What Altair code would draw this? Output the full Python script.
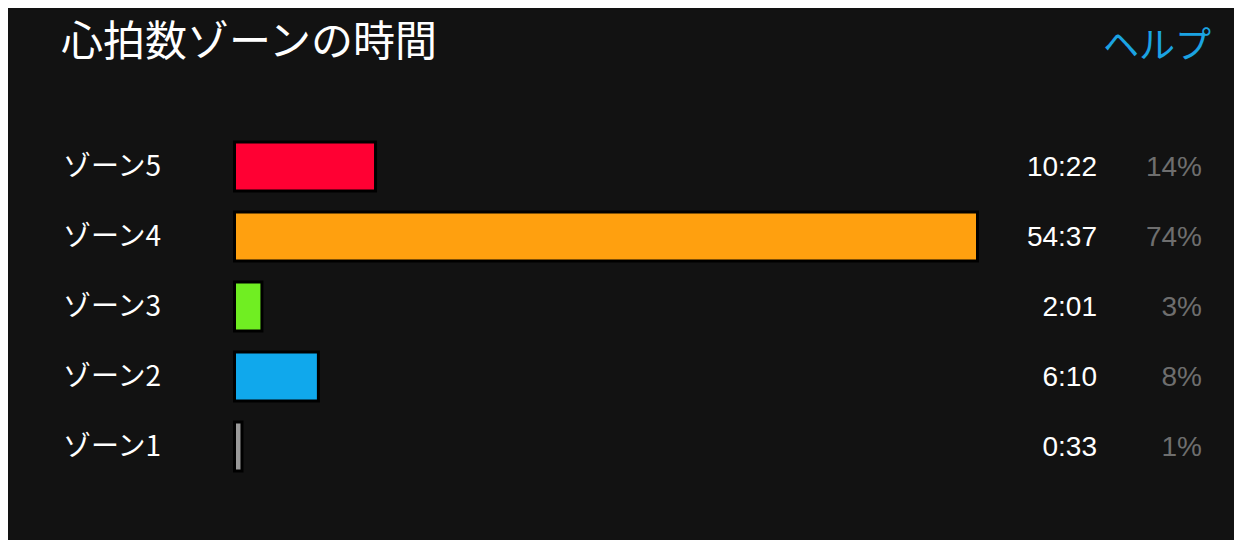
import altair as alt
import pandas as pd

zones = ["ゾーン5", "ゾーン4", "ゾーン3", "ゾーン2", "ゾーン1"]
times = ["10:22", "54:37", "2:01", "6:10", "0:33"]
seconds = [622, 3277, 121, 370, 33]
percents = ["14%", "74%", "3%", "8%", "1%"]
colors = ["#FF0033", "#FFA00F", "#70EE22", "#10A8EC", "#999999"]
title_text = ["心拍数ゾーンの時間"]
help_text = ["ヘルプ"]

df = pd.DataFrame({"zone": zones, "time": times, "seconds": seconds,
                   "pct": percents, "color": colors})

y = alt.Y("zone:N", sort=zones, axis=None,
          scale=alt.Scale(range=[123.5, 473.5], paddingInner=0.3, paddingOuter=0.15))
x = alt.X("seconds:Q", axis=None,
          scale=alt.Scale(domain=[0, max(seconds)], range=[226.5, 969.5]))

bars = alt.Chart(df).mark_bar(stroke="black", strokeWidth=3, cornerRadius=0).encode(
    x=x, y=y, color=alt.Color("color:N", scale=None))

labels = alt.Chart(df).mark_text(align="left", baseline="middle", font="Noto Sans CJK JP",
                                 fontSize=28, color="white", dy=1).encode(
    y=y, x=alt.value(55), text="zone:N")

tlab = alt.Chart(df).mark_text(align="right", baseline="middle", font="Liberation Sans",
                               fontSize=28, color="white", dy=1).encode(
    y=y, x=alt.value(1089), text="time:N")

plab = alt.Chart(df).mark_text(align="right", baseline="middle", font="Liberation Sans",
                               fontSize=28, color="#6e6e6e", dy=1).encode(
    y=y, x=alt.value(1194), text="pct:N")

title = alt.Chart(pd.DataFrame({"t": title_text})).mark_text(
    align="left", baseline="middle", font="Noto Sans CJK JP", fontSize=42, color="white").encode(
    x=alt.value(53), y=alt.value(35), text="t:N")

helpm = alt.Chart(pd.DataFrame({"t": help_text})).mark_text(
    align="right", baseline="middle", font="Noto Sans CJK JP", fontSize=36, color="#1BA3E2").encode(
    x=alt.value(1203), y=alt.value(39), text="t:N")

chart = alt.layer(bars, labels, tlab, plab, title, helpm).properties(
    width=1226, height=532, autosize=alt.AutoSizeParams(type="none"), padding=0
).configure(background="#121212").configure_view(strokeWidth=0)

chart.save("out.html", embed_options={"renderer": "svg", "actions": False})
